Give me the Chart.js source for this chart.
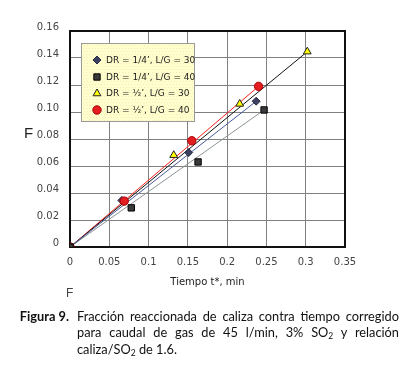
<!DOCTYPE html>
<html><head><meta charset="utf-8">
<script src="https://cdn.jsdelivr.net/npm/chart.js@4.4.1/dist/chart.umd.min.js"></script>
<style>
html,body{margin:0;padding:0;background:#fff;}
#wrap{position:relative;width:401px;height:372px;overflow:hidden;background:#fff;}
#c{position:absolute;left:0;top:0;}
.lbl{position:absolute;font-family:"Liberation Sans",Arial,sans-serif;color:#222;line-height:1;}
.cap{position:absolute;font-family:Lato,"Liberation Sans",sans-serif;font-size:12.8px;line-height:16px;color:#111;}
.jl{left:77px;width:322px;text-align:justify;text-align-last:justify;}
sub{font-size:8.5px;vertical-align:-2px;line-height:0;}
</style></head>
<body>
<div id="wrap">
<canvas id="c" width="401" height="300"></canvas>
<div class="lbl" style="left:24px;top:125px;font-size:15px;">F</div>
<div class="lbl" style="left:66px;top:287px;font-size:12px;color:#444;">F</div>
<div class="cap" style="left:0;width:69px;text-align:right;top:308px;font-weight:bold;">Figura 9.</div>
<div class="cap jl" style="top:308px;">Fracción reaccionada de caliza contra tiempo corregido</div>
<div class="cap jl" style="top:324px;">para caudal de gas de 45 l/min, 3% SO<sub>2</sub> y relación</div>
<div class="cap" style="left:77px;top:341px;">caliza/SO<sub>2</sub> de 1.6.</div>
</div>
<script>
// ---- data ----
const seriesNames = ["DR = 1/4’, L/G = 30", "DR = 1/4’, L/G = 40", "DR = ½’, L/G = 30", "DR = ½’, L/G = 40"];
const diamondT  = [0, 0.066, 0.151, 0.237];
const diamondF  = [0, 0.0345, 0.070, 0.108];
const squareT   = [0, 0.078, 0.163, 0.247];
const squareF   = [0, 0.029, 0.063, 0.1015];
const triangleT = [0, 0.132, 0.216, 0.302];
const triangleF = [0, 0.068, 0.106, 0.1447];
const circleT   = [0, 0.069, 0.155, 0.240];
const circleF   = [0, 0.034, 0.0787, 0.119];
// trend lines (start and end points)
const diamondLineT  = [0, 0.237];  const diamondLineF  = [0, 0.108];
const squareLineT   = [0, 0.247];  const squareLineF   = [0, 0.1015];
const triangleLineT = [0, 0.302];  const triangleLineF = [0, 0.1447];
const circleLineT   = [0, 0.240];  const circleLineF   = [0, 0.119];
const xTickValues = [0, 0.05, 0.1, 0.15, 0.2, 0.25, 0.3, 0.35];
const xTickLabels = ["0", "0.05", "0.1", "0.15", "0.2", "0.25", "0.3", "0.35"];
const yTickValues = [0, 0.02, 0.04, 0.06, 0.08, 0.10, 0.12, 0.14, 0.16];
const yTickLabels = ["0", "0.02", "0.04", "0.06", "0.08", "0.10", "0.12", "0.14", "0.16"];
const xTitle = "Tiempo t*, min";

const pts = (xs, ys) => xs.map((x, i) => ({x, y: ys[i]}));

const styles = [
  {pointStyle:'rectRot', radius:4, bg:'#3c4060', border:'#2a2d45', line:'#4a5a9a', order:4},
  {pointStyle:'rect', radius:4.5, bg:'#3a3a3a', border:'#000', line:'#8c9494', order:1},
  {pointStyle:'triangle', radius:4.5, bg:'#ffff00', border:'#222', line:'#111', order:3},
  {pointStyle:'circle', radius:4.2, bg:'#e41e20', border:'#a00', line:'#ff2020', order:2}
];
const ptData = [pts(diamondT, diamondF), pts(squareT, squareF), pts(triangleT, triangleF), pts(circleT, circleF)];
const lnData = [pts(diamondLineT, diamondLineF), pts(squareLineT, squareLineF), pts(triangleLineT, triangleLineF), pts(circleLineT, circleLineF)];

const datasets = [];
lnData.forEach((d, i) => datasets.push({
  type:'line', data:d, borderColor:styles[i].line, borderWidth:1, pointRadius:0, showLine:true, fill:false, order:10
}));
ptData.forEach((d, i) => datasets.push({
  label:seriesNames[i], data:d, showLine:false, pointStyle:styles[i].pointStyle, pointRadius:styles[i].radius,
  backgroundColor:styles[i].bg, borderColor:styles[i].border, borderWidth:1, order:styles[i].order
}));

const frame = {
  id:'frame',
  beforeDatasetsDraw(chart){
    const {ctx, chartArea:a} = chart;
    ctx.save(); ctx.strokeStyle = '#111'; ctx.lineWidth = 2;
    ctx.strokeRect(a.left, a.top, a.right - a.left, a.bottom - a.top);
    ctx.restore();
  }
};
const legendBox = {
  id:'legendBox',
  afterDraw(chart){
    const ctx = chart.ctx;
    const bx = 81, by = 43, bw = 113, bh = 78;
    ctx.save();
    ctx.fillStyle = '#ffffcc';
    ctx.fillRect(bx, by, bw, bh);
    ctx.fillStyle = 'rgba(240,180,180,0.35)';
    for (let yy = by + 2; yy < by + bh; yy += 3) for (let xx = bx + 2 + (yy % 2); xx < bx + bw; xx += 3) ctx.fillRect(xx, yy, 1, 1);
    ctx.strokeStyle = '#9a9a9a'; ctx.lineWidth = 1;
    ctx.strokeRect(bx + 0.5, by + 0.5, bw, bh);
    const rows = [60, 77, 93.5, 110];
    ctx.font = '9px "DejaVu Sans", sans-serif';
    ctx.textBaseline = 'middle';
    seriesNames.forEach((n, i) => {
      const s = styles[i];
      ctx.fillStyle = s.bg; ctx.strokeStyle = s.border; ctx.lineWidth = 1;
      Chart.helpers.drawPoint(ctx, {pointStyle:s.pointStyle, radius:s.radius, rotation:0, borderWidth:1}, 97, rows[i]);
      ctx.fillStyle = '#222';
      ctx.fillText(n, 106, rows[i] + 0.5);
    });
    ctx.restore();
  }
};

const tickFont = {family:'"DejaVu Sans", sans-serif', size:10};
new Chart(document.getElementById('c').getContext('2d'), {
  type:'scatter',
  data:{datasets},
  options:{
    responsive:false, animation:false, devicePixelRatio:1,
    layout:{padding:{top:31, right:56, left:0, bottom:0}},
    plugins:{legend:{display:false}, tooltip:{enabled:false}},
    scales:{
      x:{
        type:'linear', min:0, max:0.35,
        afterBuildTicks(ax){ ax.ticks = xTickValues.map(v => ({value:v})); },
        afterFit(s){ s.height = 53; },
        ticks:{callback:(v, i) => xTickLabels[i], padding:9, font:tickFont, color:'#444', maxRotation:0},
        grid:{color:'#808080', lineWidth:1, drawTicks:false},
        border:{display:false},
        title:{display:true, text:xTitle, font:tickFont, color:'#222', padding:{top:0, bottom:12}}
      },
      y:{
        type:'linear', min:0, max:0.16,
        afterBuildTicks(ax){ ax.ticks = yTickValues.map(v => ({value:v})); },
        afterFit(s){ s.width = 70; },
        ticks:{callback:(v, i) => yTickLabels[i], padding:11, font:tickFont, color:'#444', labelOffset:-4},
        grid:{color:'#808080', lineWidth:1, drawTicks:false},
        border:{display:false}
      }
    }
  },
  plugins:[frame, legendBox]
});
</script>
</body></html>
